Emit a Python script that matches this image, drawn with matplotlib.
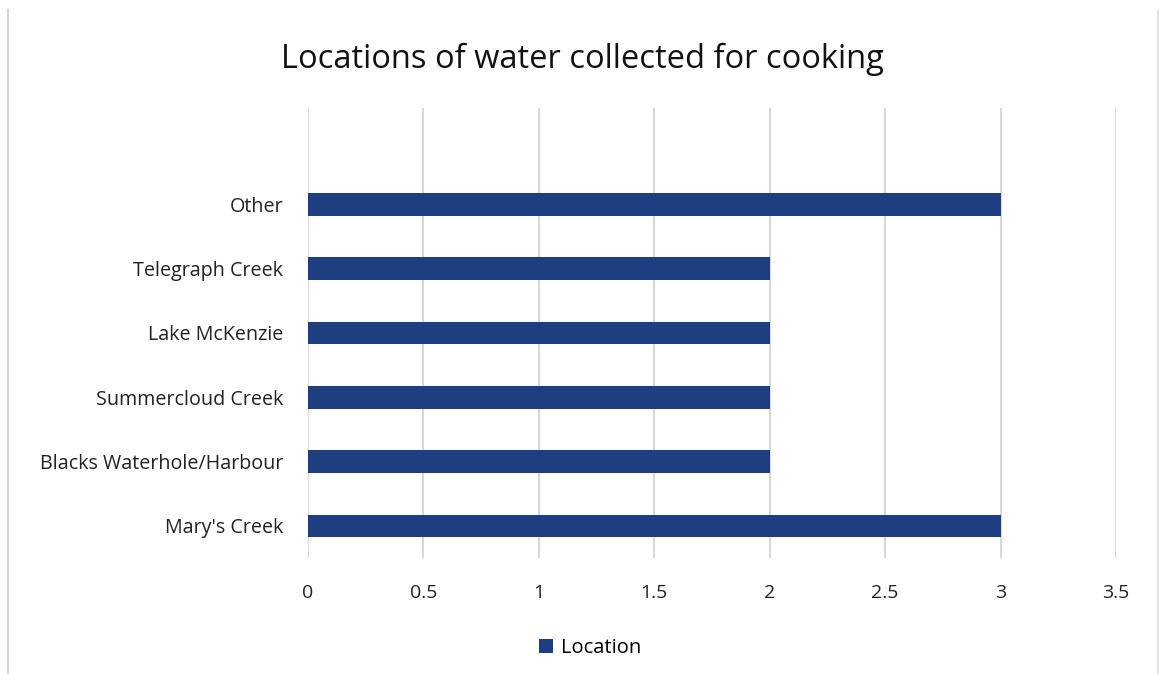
import matplotlib
matplotlib.use('Agg')
import matplotlib.pyplot as plt
from matplotlib.lines import Line2D

# categories (bottom to top) and values
locations = ["Mary's Creek", 'Blacks Waterhole/Harbour', 'Summercloud Creek',
             'Lake McKenzie', 'Telegraph Creek', 'Other']
counts = [3, 2, 2, 2, 2, 3]
xticks = [0, 0.5, 1, 1.5, 2, 2.5, 3, 3.5]
xtick_labels = ['0', '0.5', '1', '1.5', '2', '2.5', '3', '3.5']

plt.rcParams['font.family'] = ['Open Sans', 'DejaVu Sans']

fig = plt.figure(figsize=(11.6, 6.74), dpi=100)
ax = fig.add_axes([0.2655, 0.172, 0.6965, 0.668])

ypos = list(range(len(locations)))
ax.barh(ypos, counts, height=0.35, color='#1d3f82', label='Location', zorder=3)

ax.set_xlim(0, 3.5)
ax.set_ylim(-0.5, 6.5)
ax.set_xticks(xticks)
ax.set_xticklabels(xtick_labels, fontsize=14, color='#222222')
ax.set_yticks(ypos)
ax.set_yticklabels(locations, fontsize=14.2, color='#222222')
ax.tick_params(axis='x', length=0, pad=19)
ax.tick_params(axis='y', length=0, pad=18)
for s in ax.spines.values():
    s.set_visible(False)
ax.grid(axis='x', color='#cfcfcf', lw=1.2, zorder=0)

fig.text(0.502, 0.912, 'Locations of water collected for cooking', ha='center',
         va='center', fontsize=23.5, color='#111111')

ax.legend(loc='center', bbox_to_anchor=(0.349, -0.2), frameon=False,
          fontsize=14.5, handlelength=0.7, handleheight=0.7, handletextpad=0.4)

# faint frame edges
fig.add_artist(Line2D([0.007, 0.007], [0.0, 0.985], transform=fig.transFigure,
                      color='#d4d4d4', lw=1.5))
fig.add_artist(Line2D([0.998, 0.998], [0.0, 0.985], transform=fig.transFigure,
                      color='#e4e4e4', lw=1.5))

fig.savefig('out.png', dpi=100, facecolor='white')
